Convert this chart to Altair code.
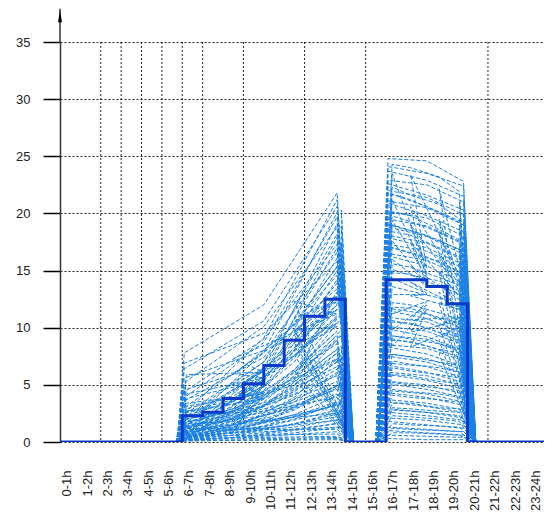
import json
import altair as alt
import pandas as pd

# ---------------- data ----------------
hour_labels = ["0-1h", "1-2h", "2-3h", "3-4h", "4-5h", "5-6h", "6-7h", "7-8h",
               "8-9h", "9-10h", "10-11h", "11-12h", "12-13h", "13-14h", "14-15h",
               "15-16h", "16-17h", "17-18h", "18-19h", "19-20h", "20-21h",
               "21-22h", "22-23h", "23-24h"]
label_pos = [0.33, 1.33, 2.33, 3.33, 4.33, 5.33, 6.33, 7.33, 8.33, 9.33, 10.33,
             11.33, 12.33, 13.33, 14.33, 15.33, 16.33, 17.33, 18.33, 19.33,
             20.33, 21.33, 22.33, 23.33]
grid_hours = [2, 3, 4, 5, 6, 7, 9, 12, 15, 21]
y_ticks = [0, 5, 10, 15, 20, 25, 30, 35]

# hourly mean (thick step line)
mean_hours = [0, 1, 2, 3, 4, 5, 6, 7, 8, 9, 10, 11, 12, 13, 14, 15, 16, 17, 18,
              19, 20, 21, 22, 23, 24]
mean_values = [0, 0, 0, 0, 0, 0, 2.3, 2.6, 3.8, 5.1, 6.7, 8.9, 11.0, 12.5, 0, 0,
               14.2, 14.2, 13.6, 12.1, 0, 0, 0, 0, 0]

# morning individual series (group A): knots in hours, values start / middle / end
am_knots = [5.75, 6.1, 10.0, 13.6, 14.35]
am_start = [7.8, 2.5, 6.4, 1.2, 3.9, 0.8, 5.2, 2.1, 0.5, 4.4, 1.6, 3.0, 0.9, 6.9,
            2.4, 1.1, 3.6, 0.7, 2.0, 5.6, 1.4, 0.6, 2.8, 1.9, 0.4, 3.3, 1.0, 4.8,
            0.8, 2.2, 1.5, 0.6, 2.6, 1.2, 0.5, 3.1, 0.9, 1.7, 0.4, 2.0, 1.1, 0.3,
            1.4, 0.8, 2.3, 0.5, 1.0, 0.7, 1.6, 0.4, 0.9, 0.3, 0.6, 1.2, 0.2, 0.5,
            0.3, 0.2, 0.1, 0.1]
am_mid = [12.0, 9.1, 10.6, 7.9, 8.7, 6.4, 10.1, 7.0, 5.8, 9.0, 6.3, 7.8, 5.5, 9.5,
          7.0, 5.3, 7.4, 4.8, 6.2, 8.0, 5.0, 4.9, 5.6, 5.4, 3.8, 6.1, 4.0, 6.4,
          4.2, 4.5, 3.8, 3.5, 4.4, 3.2, 3.1, 4.3, 2.7, 3.4, 2.1, 3.1, 2.6, 1.7,
          2.3, 2.0, 2.7, 1.4, 1.8, 1.3, 1.9, 1.1, 1.2, 0.8, 0.9, 1.1, 0.5, 0.6,
          0.4, 0.3, 0.2, 0.15]
am_end = [21.8, 21.2, 20.6, 20.1, 19.7, 19.1, 18.8, 18.2, 17.9, 17.3, 17.0, 16.6,
          16.1, 15.8, 15.3, 15.0, 14.6, 14.2, 13.9, 13.4, 13.1, 12.7, 12.3, 12.0,
          11.6, 11.2, 10.9, 10.4, 10.1, 9.7, 9.3, 8.9, 8.6, 8.1, 7.8, 7.3, 7.0,
          6.6, 6.1, 5.8, 5.3, 5.0, 4.6, 4.2, 3.9, 3.5, 3.2, 2.8, 2.5, 2.2, 1.9,
          1.6, 1.3, 1.1, 0.9, 0.7, 0.5, 0.4, 0.3, 0.2]

# morning individual series (group B)
am2_knots = [5.7, 6.2, 8.5, 11.5, 13.8, 14.4]
am2_v1 = [0.3, 1.5, 4.2, 0.8, 2.7, 5.9, 0.5, 1.9, 3.4, 0.2, 1.1, 2.3, 0.6, 4.6,
          1.3, 0.4, 2.9, 0.9, 1.7, 0.3, 3.8, 0.7, 1.2, 2.0, 0.5, 0.2, 1.4, 2.6,
          0.8, 0.4, 1.0, 0.3, 1.8, 0.6, 0.2, 0.9, 0.4, 0.1, 0.5, 0.2]
am2_v2 = [0.9, 3.6, 6.0, 2.9, 4.4, 7.3, 2.4, 3.5, 5.0, 1.6, 2.7, 3.6, 1.9, 5.9,
          2.6, 1.5, 4.0, 2.1, 2.7, 1.2, 4.8, 1.8, 2.1, 2.9, 1.3, 0.9, 2.2, 3.3,
          1.5, 1.0, 1.6, 0.8, 2.3, 1.1, 0.6, 1.3, 0.8, 0.4, 0.8, 0.4]
am2_v3 = [5.5, 9.8, 10.9, 8.7, 9.4, 12.3, 7.6, 8.4, 9.8, 6.2, 7.0, 7.9, 5.8, 10.2,
          6.3, 4.9, 7.5, 5.4, 5.6, 3.9, 7.6, 4.6, 4.4, 5.3, 3.5, 2.8, 4.1, 5.0,
          3.1, 2.4, 3.0, 2.0, 3.5, 2.2, 1.6, 2.2, 1.6, 1.0, 1.3, 0.8]
am2_v4 = [12.5, 18.9, 17.5, 16.4, 15.8, 20.3, 14.4, 14.0, 15.6, 12.1, 12.6, 13.3,
          10.8, 15.9, 11.2, 9.3, 12.0, 9.8, 9.4, 7.6, 11.4, 8.1, 7.3, 8.4, 6.2,
          5.2, 6.6, 7.5, 5.1, 4.2, 4.9, 3.5, 5.0, 3.4, 2.7, 3.3, 2.5, 1.7, 2.0, 1.3]

# afternoon individual series (group A)
pm_knots = [15.5, 16.1, 18.0, 19.8, 20.4]
pm_start = [24.8, 24.1, 23.7, 22.9, 22.6, 22.0, 21.8, 21.1, 20.9, 20.2, 19.9, 19.5,
            19.0, 18.8, 18.1, 17.9, 17.3, 17.1, 16.5, 16.3, 15.7, 15.5, 14.9, 14.7,
            14.1, 13.9, 13.3, 13.1, 12.5, 12.3, 11.7, 11.5, 10.9, 10.7, 10.1, 9.9,
            9.3, 9.1, 8.5, 8.3, 7.7, 7.5, 6.9, 6.7, 6.1, 5.9, 5.3, 5.1, 4.5, 4.3,
            3.7, 3.5, 2.9, 2.6, 2.1, 1.8, 1.3, 1.0, 0.6, 0.3]
pm_mid = [24.6, 23.5, 22.9, 22.5, 21.6, 21.4, 20.6, 20.5, 19.8, 19.6, 18.8, 18.9,
          18.1, 18.0, 17.4, 17.0, 16.7, 16.2, 15.9, 15.4, 15.2, 14.6, 14.4, 13.8,
          13.6, 13.0, 12.9, 12.3, 12.0, 11.6, 11.2, 10.8, 10.5, 10.0, 9.7, 9.2,
          9.0, 8.4, 8.2, 7.7, 7.3, 7.0, 6.6, 6.1, 5.8, 5.4, 5.0, 4.6, 4.2, 3.9,
          3.4, 3.1, 2.6, 2.3, 1.9, 1.5, 1.1, 0.8, 0.5, 0.2]
pm_end = [22.8, 22.4, 21.5, 21.0, 20.3, 19.9, 19.2, 19.0, 18.4, 18.0, 17.3, 17.4,
          16.7, 16.4, 15.9, 15.5, 15.2, 14.7, 14.4, 13.9, 13.8, 13.1, 13.0, 12.4,
          12.2, 11.6, 11.5, 10.9, 10.7, 10.2, 9.9, 9.5, 9.2, 8.7, 8.5, 8.0, 7.8,
          7.3, 7.1, 6.6, 6.3, 6.0, 5.6, 5.2, 4.9, 4.6, 4.2, 3.9, 3.5, 3.2, 2.8,
          2.6, 2.1, 1.9, 1.5, 1.2, 0.9, 0.6, 0.4, 0.2]

# afternoon individual series (group B)
pm2_knots = [15.6, 16.3, 17.2, 18.6, 19.6, 20.3]
pm2_v1 = [23.5, 21.2, 19.4, 17.6, 16.0, 14.3, 12.9, 11.2, 9.8, 8.4, 7.1, 5.9, 4.6,
          3.4, 2.3, 1.2, 22.3, 18.4, 15.1, 10.5, 6.5, 2.8, 20.1, 13.6, 8.9, 4.1,
          24.3, 17.0, 11.8, 0.8, 19.0, 12.2, 5.2, 1.6, 21.7, 15.6, 9.3, 3.0, 14.8, 7.7]
pm2_v2 = [23.4, 20.6, 19.0, 17.5, 15.4, 14.0, 12.8, 10.7, 9.6, 8.3, 6.8, 5.8, 4.4,
          3.4, 2.2, 1.1, 21.6, 18.1, 14.6, 10.4, 6.2, 2.7, 19.8, 13.2, 8.8, 3.9,
          24.0, 16.5, 11.7, 0.8, 18.5, 12.0, 5.0, 1.5, 21.2, 15.3, 9.0, 2.9, 14.7, 7.4]
pm2_v3 = [22.2, 19.5, 18.3, 16.4, 14.9, 13.1, 12.2, 10.3, 8.9, 7.7, 6.5, 5.3, 4.2,
          3.0, 2.0, 1.0, 20.8, 17.0, 14.1, 9.6, 5.9, 2.5, 18.6, 12.6, 8.1, 3.7,
          23.2, 15.8, 10.9, 0.7, 17.6, 11.3, 4.7, 1.4, 20.1, 14.4, 8.6, 2.7, 13.6, 7.0]
pm2_v4 = [21.0, 18.7, 17.1, 15.8, 14.1, 12.6, 11.3, 9.9, 8.5, 7.3, 6.1, 5.1, 3.9,
          2.9, 1.8, 0.9, 19.5, 16.2, 13.2, 9.2, 5.6, 2.3, 17.7, 11.9, 7.8, 3.5,
          21.9, 14.9, 10.4, 0.6, 16.8, 10.7, 4.5, 1.3, 19.2, 13.7, 8.1, 2.6, 13.0, 6.7]

# y-axis arrow (decoration, in data units)
arrow_hour = [0]
arrow_base = [35]
arrow_top = [37.9]
arrow_head = [37.25]

# ---------------- tables ----------------
rows = []
groups = (
    ("am", am_knots, [am_start, am_mid, am_end]),
    ("am2", am2_knots, [am2_v1, am2_v2, am2_v3, am2_v4]),
    ("pm", pm_knots, [pm_start, pm_mid, pm_end]),
    ("pm2", pm2_knots, [pm2_v1, pm2_v2, pm2_v3, pm2_v4]),
)
for prefix, knots, cols in groups:
    for k, vals in enumerate(zip(*cols)):
        for j, (h, v) in enumerate(zip(knots, [0, *vals, 0])):
            rows.append({"series": f"{prefix}{k}", "order": j, "hour": h, "value": v})
series_df = pd.DataFrame(rows)
mean_df = pd.DataFrame({"hour": mean_hours, "value": mean_values})
grid_df = pd.DataFrame({"hour": grid_hours})
arrow_df = pd.DataFrame({"hour": arrow_hour, "value": arrow_base, "value2": arrow_top,
                         "head": arrow_head})

FONT = "Liberation Sans"
label_expr = json.dumps(hour_labels) + "[floor(datum.value)]"

x_axis = alt.Axis(values=label_pos, labelExpr=label_expr, labelAngle=-90,
                  ticks=False, domain=False, grid=False, labelPadding=28,
                  labelFontSize=13, labelFont=FONT, labelColor="#222",
                  labelOverlap=False, labelFlush=False, labelBound=False, title=None)
y_axis = alt.Axis(values=y_ticks, grid=True, gridColor="black", gridDash=[2, 2],
                  gridOpacity=0.85, tickSize=17, tickColor="black", tickWidth=1.5,
                  domainColor="#333", domainWidth=1.5, labelPadding=13,
                  labelFontSize=13, labelFont=FONT, labelColor="#222", title=None)
x_scale = alt.Scale(domain=[0, 23.75], nice=False, zero=False)
y_scale = alt.Scale(domain=[0, 35], nice=False)


def X(field="hour"):
    return alt.X(f"{field}:Q", scale=x_scale, axis=x_axis)


def Y(field="value"):
    return alt.Y(f"{field}:Q", scale=y_scale, axis=y_axis)


vgrid = alt.Chart(grid_df).mark_rule(color="black", strokeDash=[2, 2],
                                     strokeWidth=1, opacity=0.85).encode(x=X())

lines = alt.Chart(series_df).mark_line(strokeWidth=1, strokeDash=[4, 2],
                                       color="#1a80e5", clip=True).encode(
    x=X(), y=Y(), detail="series:N", order="order:Q")

mean_line = alt.Chart(mean_df).mark_line(interpolate="step-after", strokeWidth=3,
                                         color="#0a38c8", clip=True).encode(x=X(), y=Y())

arrow_line = alt.Chart(arrow_df).mark_rule(color="#333", strokeWidth=1.5).encode(
    x=X(), y=Y(), y2="value2:Q")
arrow_tip = alt.Chart(arrow_df).mark_point(shape="M0,-1L0.33,1L-0.33,1Z", filled=True,
                                           size=144, color="black", opacity=1).encode(
    x=X(), y=Y("head"))

chart = alt.layer(vgrid, lines, mean_line, arrow_line, arrow_tip).properties(
    width=484, height=400,
    padding={"left": 52, "top": 34, "right": 0, "bottom": 73},
    autosize=alt.AutoSizeParams(type="none"),
    background="white",
).configure_view(stroke=None)

chart.save("out.html", embed_options={"renderer": "svg", "actions": False})
